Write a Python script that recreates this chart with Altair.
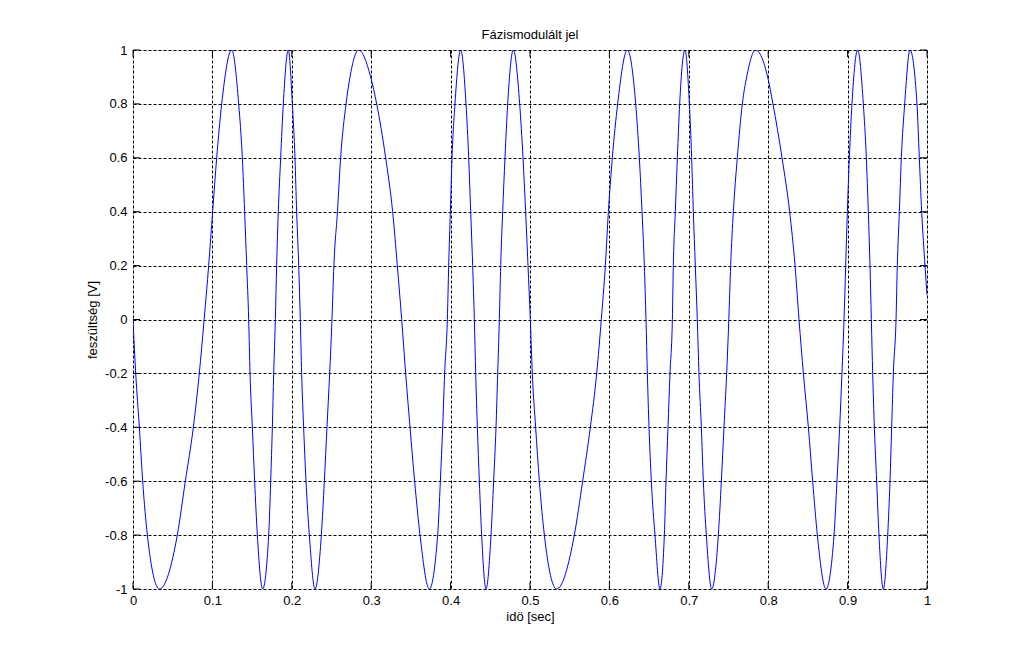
import altair as alt
import pandas as pd

# Phase-modulated signal (time [s], voltage [V])
t_vals = [
    0.0,
    0.0034, 0.0080, 0.0122, 0.0181, 0.0332, 0.0558, 0.0659, 0.0760, 0.0835, 0.0896,
    0.0953, 0.1003, 0.1054, 0.1117, 0.1243, 0.1331, 0.1377, 0.1406, 0.1432, 0.1457,
    0.1474, 0.1503, 0.1532, 0.1566, 0.1633, 0.1709, 0.1734, 0.1755, 0.1772, 0.1793,
    0.1809, 0.1830, 0.1860, 0.1893, 0.1956, 0.2007, 0.2040, 0.2061, 0.2087, 0.2107,
    0.2124, 0.2149, 0.2179, 0.2221, 0.2292, 0.2372, 0.2410, 0.2443, 0.2477, 0.2506,
    0.2530, 0.2575, 0.2615, 0.2683, 0.2733, 0.2842, 0.2993, 0.3069, 0.3182, 0.3270, 0.3329, 0.3384,
    0.3434, 0.3489, 0.3547, 0.3615, 0.3732, 0.3837, 0.3871, 0.3900, 0.3925, 0.3959,
    0.3976, 0.3997, 0.4018, 0.4055, 0.4127, 0.4194, 0.4228, 0.4253, 0.4278, 0.4299,
    0.4316, 0.4337, 0.4362, 0.4391, 0.4446, 0.4509, 0.4542, 0.4572, 0.4593, 0.4614,
    0.4631, 0.4656, 0.4685, 0.4719, 0.4790, 0.4870, 0.4912, 0.4945, 0.4975, 0.5004,
    0.5029, 0.5071, 0.5118, 0.5181, 0.5336, 0.5558, 0.5663, 0.5760, 0.5840, 0.5898,
    0.5949, 0.5987, 0.6037, 0.6104, 0.6226, 0.6331, 0.6377, 0.6411, 0.6440, 0.6461,
    0.6478, 0.6499, 0.6528, 0.6574, 0.6637, 0.6692, 0.6713, 0.6738, 0.6763, 0.6793,
    0.6805, 0.6830, 0.6856, 0.6885, 0.6952, 0.7007, 0.7036, 0.7057, 0.7082, 0.7107,
    0.7128, 0.7158, 0.7183, 0.7221, 0.7288, 0.7372, 0.7410, 0.7443, 0.7477, 0.7504,
    0.7527, 0.7561, 0.7611, 0.7674, 0.7729, 0.7842, 0.7993, 0.8060, 0.8174, 0.8270, 0.8338, 0.8388,
    0.8443, 0.8506, 0.8560, 0.8619, 0.8728, 0.8829, 0.8866, 0.8900, 0.8929, 0.8955,
    0.8976, 0.8997, 0.9022, 0.9055, 0.9127, 0.9198, 0.9236, 0.9261, 0.9282, 0.9299,
    0.9316, 0.9337, 0.9366, 0.9395, 0.9450, 0.9505, 0.9534, 0.9555, 0.9576, 0.9610,
    0.9626, 0.9652, 0.9677, 0.9719, 0.9786, 0.9874, 0.9903, 0.9933, 0.9975, 1.0,
]
v_vals = [
    0.0,
    -0.2, -0.4, -0.6, -0.8, -1.0, -0.8, -0.6, -0.4, -0.2, 0.0,
    0.2, 0.4, 0.6, 0.8, 1.0, 0.8, 0.6, 0.4, 0.2, 0.0,
    -0.2, -0.4, -0.6, -0.8, -1.0, -0.8, -0.6, -0.4, -0.2, 0.0,
    0.2, 0.4, 0.6, 0.8, 1.0, 0.8, 0.6, 0.4, 0.2, 0.0,
    -0.2, -0.4, -0.6, -0.8, -1.0, -0.8, -0.6, -0.4, -0.2, 0.0,
    0.2, 0.4, 0.6, 0.8, 0.9, 1.0, 0.9, 0.8, 0.6, 0.4, 0.2, 0.0,
    -0.2, -0.4, -0.6, -0.8, -1.0, -0.8, -0.6, -0.4, -0.2, 0.0,
    0.2, 0.4, 0.6, 0.8, 1.0, 0.8, 0.6, 0.4, 0.2, 0.0,
    -0.2, -0.4, -0.6, -0.8, -1.0, -0.8, -0.6, -0.4, -0.2, 0.0,
    0.2, 0.4, 0.6, 0.8, 1.0, 0.8, 0.6, 0.4, 0.2, 0.0,
    -0.2, -0.4, -0.6, -0.8, -1.0, -0.8, -0.6, -0.4, -0.2, 0.0,
    0.2, 0.4, 0.6, 0.8, 1.0, 0.8, 0.6, 0.4, 0.2, 0.0,
    -0.2, -0.4, -0.6, -0.8, -1.0, -0.8, -0.6, -0.4, -0.2, 0.0,
    0.2, 0.4, 0.6, 0.8, 1.0, 0.8, 0.6, 0.4, 0.2, 0.0,
    -0.2, -0.4, -0.6, -0.8, -1.0, -0.8, -0.6, -0.4, -0.2, 0.0,
    0.2, 0.4, 0.6, 0.8, 0.9, 1.0, 0.9, 0.8, 0.6, 0.4, 0.2, 0.0,
    -0.2, -0.4, -0.6, -0.8, -1.0, -0.8, -0.6, -0.4, -0.2, 0.0,
    0.2, 0.4, 0.6, 0.8, 1.0, 0.8, 0.6, 0.4, 0.2, 0.0,
    -0.2, -0.4, -0.6, -0.8, -1.0, -0.8, -0.6, -0.4, -0.2, 0.0,
    0.2, 0.4, 0.6, 0.8, 1.0, 0.8, 0.6, 0.4, 0.2, 0.09,
]

x_ticks = [0, 0.1, 0.2, 0.3, 0.4, 0.5, 0.6, 0.7, 0.8, 0.9, 1]
y_ticks = [-1, -0.8, -0.6, -0.4, -0.2, 0, 0.2, 0.4, 0.6, 0.8, 1]

title_text = "Fázismodulált jel"
x_title = "idö [sec]"
y_title = "feszültség [V]"

W, H = 794, 539
FONT = "Liberation Sans"
TL = 7  # inward tick length

df = pd.DataFrame({"t": t_vals, "v": v_vals})
xt = pd.DataFrame({"xt": x_ticks})
yt = pd.DataFrame({"yt": y_ticks})

x_scale = alt.Scale(domain=[0, 1], nice=False, zero=False)
y_scale = alt.Scale(domain=[-1, 1], nice=False, zero=False)

common_axis = dict(
    grid=True, gridColor="black", gridDash=[3, 2], gridOpacity=1, gridWidth=1,
    ticks=False, domain=False, labelFlush=False, labelOverlap=False,
    labelFont=FONT, labelFontSize=13, labelColor="black",
    titleFont=FONT, titleFontSize=13, titleFontWeight="normal", titleColor="black",
)
x_axis = alt.Axis(values=x_ticks, labelExpr="'' + datum.value", title=x_title,
                  labelPadding=5, titlePadding=3, **common_axis)
y_axis = alt.Axis(values=y_ticks, labelExpr="'' + datum.value", title=y_title,
                  labelPadding=6, titlePadding=5, **common_axis)

line = alt.Chart(df).mark_line(
    color="#0000ff", strokeWidth=1, interpolate="monotone", clip=True
).encode(
    x=alt.X("t:Q", scale=x_scale, axis=x_axis),
    y=alt.Y("v:Q", scale=y_scale, axis=y_axis),
)

tick_style = dict(color="black", strokeWidth=1)
bottom_ticks = alt.Chart(xt).mark_rule(**tick_style).encode(
    x=alt.X("xt:Q", scale=x_scale), y=alt.value(H), y2=alt.value(H - TL))
top_ticks = alt.Chart(xt).mark_rule(**tick_style).encode(
    x=alt.X("xt:Q", scale=x_scale), y=alt.value(0), y2=alt.value(TL))
left_ticks = alt.Chart(yt).mark_rule(**tick_style).encode(
    y=alt.Y("yt:Q", scale=y_scale), x=alt.value(0), x2=alt.value(TL))
right_ticks = alt.Chart(yt).mark_rule(**tick_style).encode(
    y=alt.Y("yt:Q", scale=y_scale), x=alt.value(W - TL), x2=alt.value(W))

chart = alt.layer(
    bottom_ticks, top_ticks, left_ticks, right_ticks, line
).properties(
    width=W, height=H,
    title=alt.TitleParams(title_text, font=FONT, fontSize=13, fontWeight="normal",
                          color="black", anchor="middle", offset=2),
    autosize=alt.AutoSizeParams(type="none"),
    padding={"left": 125, "top": 42, "right": 89, "bottom": 65},
).configure_view(
    stroke="black", strokeWidth=1
).configure(background="white")

chart.save("out.html", embed_options={"renderer": "svg", "actions": False})
